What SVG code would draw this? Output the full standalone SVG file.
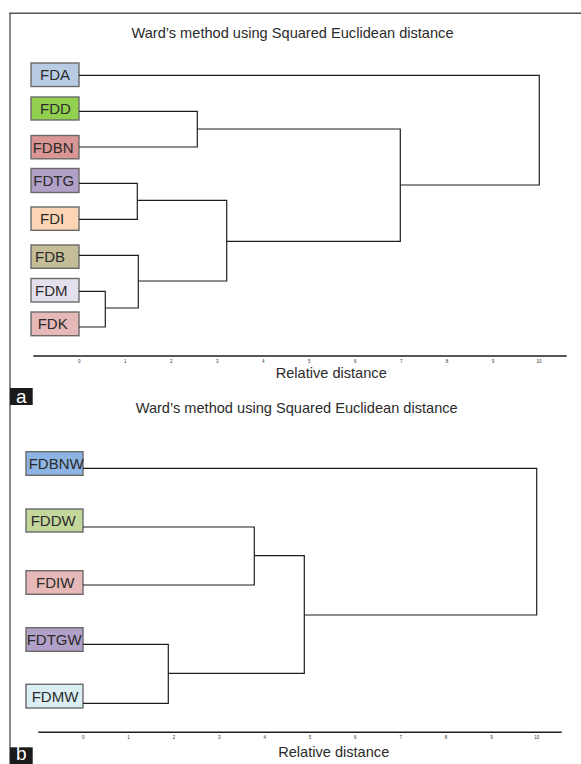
<svg xmlns="http://www.w3.org/2000/svg" width="581" height="764" viewBox="0 0 581 764">
<style>
.bg{fill:#ffffff}
.box{stroke:#6a6a6a;stroke-width:1.4}
.lbl{font-family:"Liberation Sans",Arial,sans-serif;font-size:15px;fill:#2b2b2b}
.title{font-family:"Liberation Sans",Arial,sans-serif;font-size:14.6px;fill:#2b2b2b;text-anchor:middle}
.axl{font-family:"Liberation Sans",Arial,sans-serif;font-size:14.6px;fill:#2b2b2b;text-anchor:middle}
.tick{font-family:"Liberation Sans",Arial,sans-serif;font-size:4.5px;fill:#333;text-anchor:middle}
.ln{fill:none;stroke:#1e1e1e;stroke-width:1.2}
.axis{stroke:#1e1e1e;stroke-width:1.4}
.tag{fill:#1a1a1a}
.tagt{font-family:"Liberation Sans",Arial,sans-serif;font-size:19px;fill:#ffffff;text-anchor:middle}
</style>
<rect class="bg" x="0" y="0" width="581" height="764"/>
<g id="frame">
<line x1="10" y1="13" x2="10" y2="764" stroke="#8a8a8a" stroke-width="2"/>
<line x1="9" y1="13.3" x2="581" y2="13.3" stroke="#555" stroke-width="1.6"/>
</g>

<!-- Panel a -->
<text class="title" x="292.5" y="38">Ward’s method using Squared Euclidean distance</text>
<g id="a-FDA"><rect class="box" x="31" y="63" width="48" height="23.5" fill="#b8cce4"/><text class="lbl" x="40" y="80.2">FDA</text></g>
<g id="a-FDD"><rect class="box" x="31" y="97" width="48" height="23" fill="#92d050"/><text class="lbl" x="40" y="113.8">FDD</text></g>
<g id="a-FDBN"><rect class="box" x="31" y="135.5" width="48" height="23.3" fill="#da9694"/><text class="lbl" x="32.7" y="152.5">FDBN</text></g>
<g id="a-FDTG"><rect class="box" x="31" y="168.5" width="48" height="24" fill="#b1a0c7"/><text class="lbl" x="33.3" y="185.5">FDTG</text></g>
<g id="a-FDI"><rect class="box" x="31" y="207" width="48" height="23.3" fill="#fcd5b4"/><text class="lbl" x="40" y="224">FDI</text></g>
<g id="a-FDB"><rect class="box" x="31" y="245" width="48" height="23.3" fill="#c4bd97"/><text class="lbl" x="35" y="262">FDB</text></g>
<g id="a-FDM"><rect class="box" x="31" y="278.5" width="48" height="23.5" fill="#e4dfec"/><text class="lbl" x="35" y="295.5">FDM</text></g>
<g id="a-FDK"><rect class="box" x="31" y="312" width="48" height="23.7" fill="#e6b8b7"/><text class="lbl" x="37.7" y="329.2">FDK</text></g>

<g id="a-connectors">
<path class="ln" d="M79 75.3 H539.3 V185 H400.3"/>
<path class="ln" d="M79 111.3 H197.3 V147 H79"/>
<path class="ln" d="M197.3 129 H400.3 V241.3 H226.7"/>
<path class="ln" d="M79 183.3 H137.3 V219.3 H79"/>
<path class="ln" d="M137.3 200.3 H226.7 V281 H138.3"/>
<path class="ln" d="M79 255.3 H138.3 V308 H105.3"/>
<path class="ln" d="M79 291.3 H105.3 V327 H79"/>
</g>

<g id="a-axis">
<line class="axis" x1="33.3" y1="356" x2="566.7" y2="356"/>
<text class="tick" x="79.3" y="363">0</text>
<text class="tick" x="125.3" y="363">1</text>
<text class="tick" x="171.2" y="363">2</text>
<text class="tick" x="217.2" y="363">3</text>
<text class="tick" x="263.2" y="363">4</text>
<text class="tick" x="309.3" y="363">5</text>
<text class="tick" x="355.2" y="363">6</text>
<text class="tick" x="401.2" y="363">7</text>
<text class="tick" x="447.1" y="363">8</text>
<text class="tick" x="493" y="363">9</text>
<text class="tick" x="538.9" y="363">10</text>
<text class="axl" x="331.2" y="377.5">Relative distance</text>
</g>
<g id="tag-a"><rect class="tag" x="10" y="388" width="22.7" height="17"/><text class="tagt" x="21.3" y="402.5">a</text></g>

<!-- Panel b -->
<text class="title" x="296.7" y="413">Ward’s method using Squared Euclidean distance</text>
<g id="b-FDBNW"><rect class="box" x="26" y="451.7" width="57" height="23.6" fill="#8db4e2"/><text class="lbl" x="28.7" y="468.8">FDBNW</text></g>
<g id="b-FDDW"><rect class="box" x="26" y="509" width="57" height="23" fill="#c4d79b"/><text class="lbl" x="30.7" y="526">FDDW</text></g>
<g id="b-FDIW"><rect class="box" x="26" y="570.7" width="57" height="23.6" fill="#e6b8b7"/><text class="lbl" x="36" y="587.8">FDIW</text></g>
<g id="b-FDTGW"><rect class="box" x="26" y="627.7" width="57" height="23.6" fill="#b1a0c7"/><text class="lbl" x="26.7" y="644.8">FDTGW</text></g>
<g id="b-FDMW"><rect class="box" x="26" y="684.3" width="57" height="23.7" fill="#daeef3"/><text class="lbl" x="31.7" y="701.5">FDMW</text></g>

<g id="b-connectors">
<path class="ln" d="M83 468.3 H536.7 V615 H304.3"/>
<path class="ln" d="M83 527 H254.3 V585 H83"/>
<path class="ln" d="M254.3 555.7 H304.3 V673.3 H168.3"/>
<path class="ln" d="M83 644.3 H168.3 V703.3 H83"/>
</g>

<g id="b-axis">
<line class="axis" x1="38.3" y1="732.3" x2="561.7" y2="732.3"/>
<text class="tick" x="83.3" y="739.3">0</text>
<text class="tick" x="128.6" y="739.3">1</text>
<text class="tick" x="174" y="739.3">2</text>
<text class="tick" x="219.3" y="739.3">3</text>
<text class="tick" x="264.7" y="739.3">4</text>
<text class="tick" x="310" y="739.3">5</text>
<text class="tick" x="355.3" y="739.3">6</text>
<text class="tick" x="400.7" y="739.3">7</text>
<text class="tick" x="446" y="739.3">8</text>
<text class="tick" x="491.4" y="739.3">9</text>
<text class="tick" x="536.7" y="739.3">10</text>
<text class="axl" x="333.7" y="757">Relative distance</text>
</g>
<g id="tag-b"><rect class="tag" x="10" y="747.3" width="22.7" height="16.7"/><text class="tagt" x="21.3" y="759.5">b</text></g>
</svg>
